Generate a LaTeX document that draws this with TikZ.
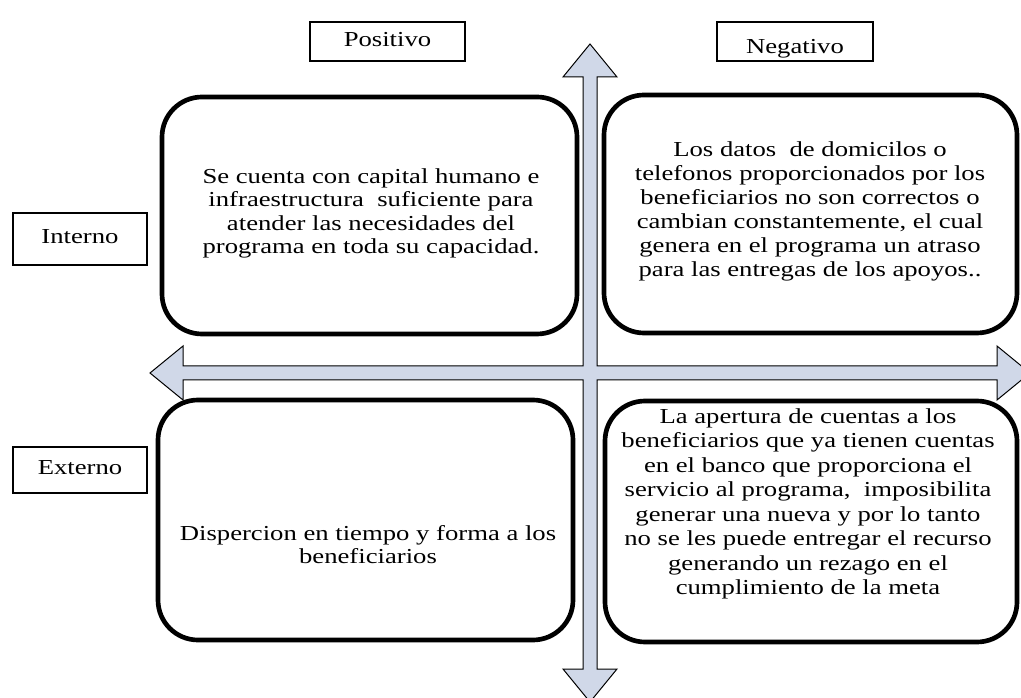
\documentclass[tikz,border=0pt]{standalone}
\usepackage{fontspec}
\setmainfont{Liberation Serif}
\usepackage{graphicx}
\definecolor{arrfill}{RGB}{208,216,232}
% text blocks: 20pt Times-like, squashed vertically as in the reference
\newcommand\tblock[2]{{\fontsize{20}{#1}\selectfont\scalebox{1}[0.8]{\begin{tabular}{@{}c@{}}#2\end{tabular}}}}
\begin{document}
\begin{tikzpicture}[x=0.75pt,y=-0.75pt,
  quad/.style={draw, line width=3.5pt, rounded corners=30pt, fill=white, inner sep=0pt},
  lbl/.style={draw, line width=0.9pt, inner sep=0pt, fill=white},
  side/.style={lbl, line width=1.4pt},
  txt/.style={inner sep=0pt},
  cross/.style={draw=black, line width=0.75pt, fill=arrfill, line join=miter}]
\useasboundingbox (0,0) rectangle (1021,698);
% double block arrows (cross)
\begin{scope}
\clip (0,0) rectangle (1021,698);
\draw[cross] (590,44) -- (617,77) -- (597,77) -- (597,366) -- (997,366) -- (997,346)
  -- (1030,373) -- (997,400) -- (997,380) -- (597,380) -- (597,669) -- (617,669)
  -- (590,702) -- (563,669) -- (583,669) -- (583,380) -- (183,380) -- (183,400)
  -- (150,373) -- (183,346) -- (183,366) -- (583,366) -- (583,77) -- (563,77) -- cycle;
\end{scope}
% quadrant boxes
\node[quad, minimum width={415*0.75pt}, minimum height={237*0.75pt}] (tl) at (369.5,215.5) {};
\node[quad, minimum width={413*0.75pt}, minimum height={238*0.75pt}] (tr) at (810.5,214) {};
\node[quad, minimum width={415*0.75pt}, minimum height={240*0.75pt}] (bl) at (365.5,520) {};
\node[quad, minimum width={412*0.75pt}, minimum height={241*0.75pt}] (br) at (811,521.5) {};
% texts
\node[txt] (tlt) at (371,214) {\tblock{21.9}{Se cuenta con capital humano e\\infraestructura\ \ suficiente para\\atender las necesidades del\\programa en toda su capacidad.}};
\node[txt] (trt) at (810,212) {\tblock{22.5}{Los datos\ \ de domicilos o\\telefonos proporcionados por los\\beneficiarios no son correctos o\\cambian constantemente, el cual\\genera en el programa un atraso\\para las entregas de los apoyos..}};
\node[txt] (blt) at (368,547.5) {\tblock{21.6}{Dispercion en tiempo y forma a los\\beneficiarios}};
\node[txt] (brt) at (808,504) {\tblock{23}{La apertura de cuentas a los\\beneficiarios que ya tienen cuentas\\en el banco que proporciona el\\servicio al programa,\ \ imposibilita\\generar una nueva y por lo tanto\\no se les puede entregar el recurso\\generando un rezago en el\\cumplimiento de la meta}};
% labels
\node[lbl, minimum width={155*0.75pt}, minimum height={39*0.75pt}] (pos) at (387.5,41.5) {\tblock{22}{Positivo}};
\node[lbl, minimum width={156*0.75pt}, minimum height={39*0.75pt}] (neg) at (795,41.5) {\raisebox{-9pt}[0pt][0pt]{\fontsize{20}{22}\selectfont\scalebox{1}[0.8]{Negativo}}};
\node[side, minimum width={134*0.75pt}, minimum height={52*0.75pt}] (int) at (80,239) {\tblock{22}{Interno}};
\node[side, minimum width={134*0.75pt}, minimum height={46*0.75pt}] (ext) at (80,470) {\tblock{22}{Externo}};
\end{tikzpicture}
\end{document}
